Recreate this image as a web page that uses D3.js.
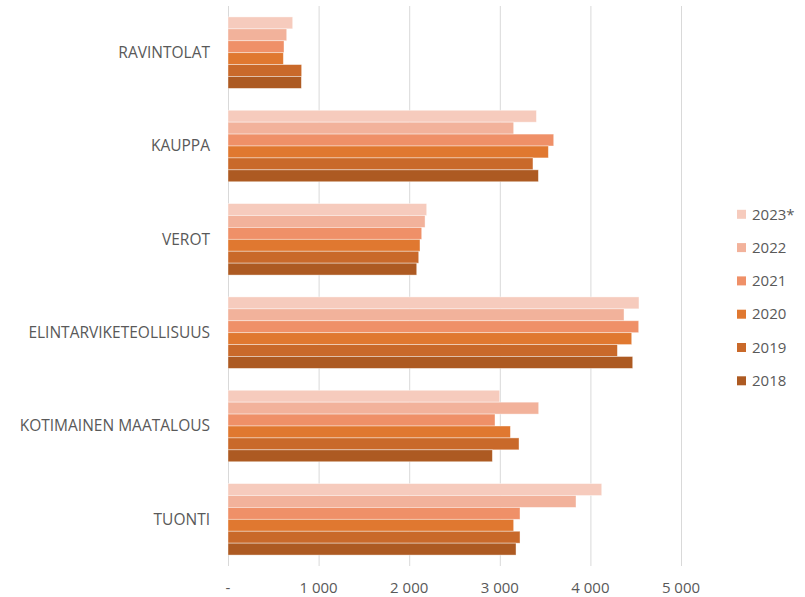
<!DOCTYPE html>
<html>
<head>
<meta charset="utf-8">
<script src="https://cdn.jsdelivr.net/npm/d3@7"></script>
<style>
  body { margin: 0; background: #fff; }
  text { font-family: "Open Sans", "Liberation Sans", sans-serif; fill: #595959; }
</style>
</head>
<body>
<div id="chart"></div>
<script>
/* global d3 */

// Categories top to bottom
var categories = [ "RAVINTOLAT", "KAUPPA", "VEROT", "ELINTARVIKETEOLLISUUS", "KOTIMAINEN MAATALOUS", "TUONTI" ];

// Series in drawing order (top bar of each group first)
var years = [ "2023*", "2022", "2021", "2020", "2019", "2018" ];

var v2023 = [ 714, 3404, 2193, 4536, 2999, 4125 ];
var v2022 = [ 648, 3153, 2175, 4371, 3429, 3841 ];
var v2021 = [ 618, 3595, 2138, 4533, 2947, 3223 ];
var v2020 = [ 611, 3536, 2119, 4456, 3117, 3153 ];
var v2019 = [ 813, 3366, 2105, 4298, 3212, 3223 ];
var v2018 = [ 810, 3426, 2083, 4467, 2918, 3179 ];

var series = [ v2023, v2022, v2021, v2020, v2019, v2018 ];
var colors = [ "#f6cbbd", "#f2b29b", "#ef9068", "#e07830", "#c9692a", "#ad5a22" ];

var ticks = [ 0, 1000, 2000, 3000, 4000, 5000 ];

var width = 805, height = 597;
var margin = { top: 6, left: 228, right: 124, bottom: 31 };

var svg = d3.select( "#chart" ).append( "svg" )
  .attr( "width", width )
  .attr( "height", height );

var x = d3.scaleLinear()
  .domain( [ 0, 5000 ] )
  .range( [ margin.left, 681 ] );

var y = d3.scaleBand()
  .domain( categories )
  .range( [ margin.top, height - margin.bottom ] )
  .paddingInner( 0.234 )
  .paddingOuter( 0.117 );

var yInner = d3.scaleBand()
  .domain( years )
  .range( [ 0, y.bandwidth() ] );

// Gridlines
svg.append( "g" )
  .selectAll( "line" )
  .data( ticks )
  .join( "line" )
    .attr( "x1", d => x( d ) + 0.5 )
    .attr( "x2", d => x( d ) + 0.5 )
    .attr( "y1", 6 )
    .attr( "y2", 566 )
    .attr( "stroke", "#d9d9d9" )
    .attr( "stroke-width", 1 );

// Bars
var rows = [];
categories.forEach( function( c, i ) {
  years.forEach( function( yr, j ) {
    rows.push( { cat: c, year: yr, value: series[ j ][ i ], color: colors[ j ] } );
  } );
} );

svg.append( "g" )
  .selectAll( "rect" )
  .data( rows )
  .join( "rect" )
    .attr( "x", x( 0 ) )
    .attr( "y", d => y( d.cat ) + yInner( d.year ) )
    .attr( "width", d => x( d.value ) - x( 0 ) )
    .attr( "height", yInner.bandwidth() )
    .attr( "fill", d => d.color )
    .attr( "stroke", "#fff" )
    .attr( "stroke-opacity", 0.5 )
    .attr( "stroke-width", 0.8 );

// Category labels
svg.append( "g" )
  .selectAll( "text" )
  .data( categories )
  .join( "text" )
    .attr( "x", 210 )
    .attr( "y", d => y( d ) + y.bandwidth() / 2 )
    .attr( "dy", "0.35em" )
    .attr( "text-anchor", "end" )
    .style( "font-size", "15.5px" )
    .text( d => d );

// X axis labels
var fmt = function( d ) {
  return d === 0 ? "-" : d3.format( "," )( d ).replace( /,/g, " " );
};

svg.append( "g" )
  .selectAll( "text" )
  .data( ticks )
  .join( "text" )
    .attr( "x", d => x( d ) )
    .attr( "y", 588 )
    .attr( "dy", "0.35em" )
    .attr( "text-anchor", "middle" )
    .style( "font-size", "15px" )
    .text( fmt );

// Legend
var legend = svg.append( "g" )
  .selectAll( "g" )
  .data( years )
  .join( "g" )
    .attr( "transform", ( d, i ) => "translate(737," + ( 214.3 + i * 33.3 ) + ")" );

legend.append( "rect" )
  .attr( "x", 0 )
  .attr( "y", -4.5 )
  .attr( "width", 9 )
  .attr( "height", 9 )
  .attr( "fill", ( d, i ) => colors[ i ] );

legend.append( "text" )
  .attr( "x", 15 )
  .attr( "dy", "0.35em" )
  .style( "font-size", "15px" )
  .text( d => d );
</script>
</body>
</html>
